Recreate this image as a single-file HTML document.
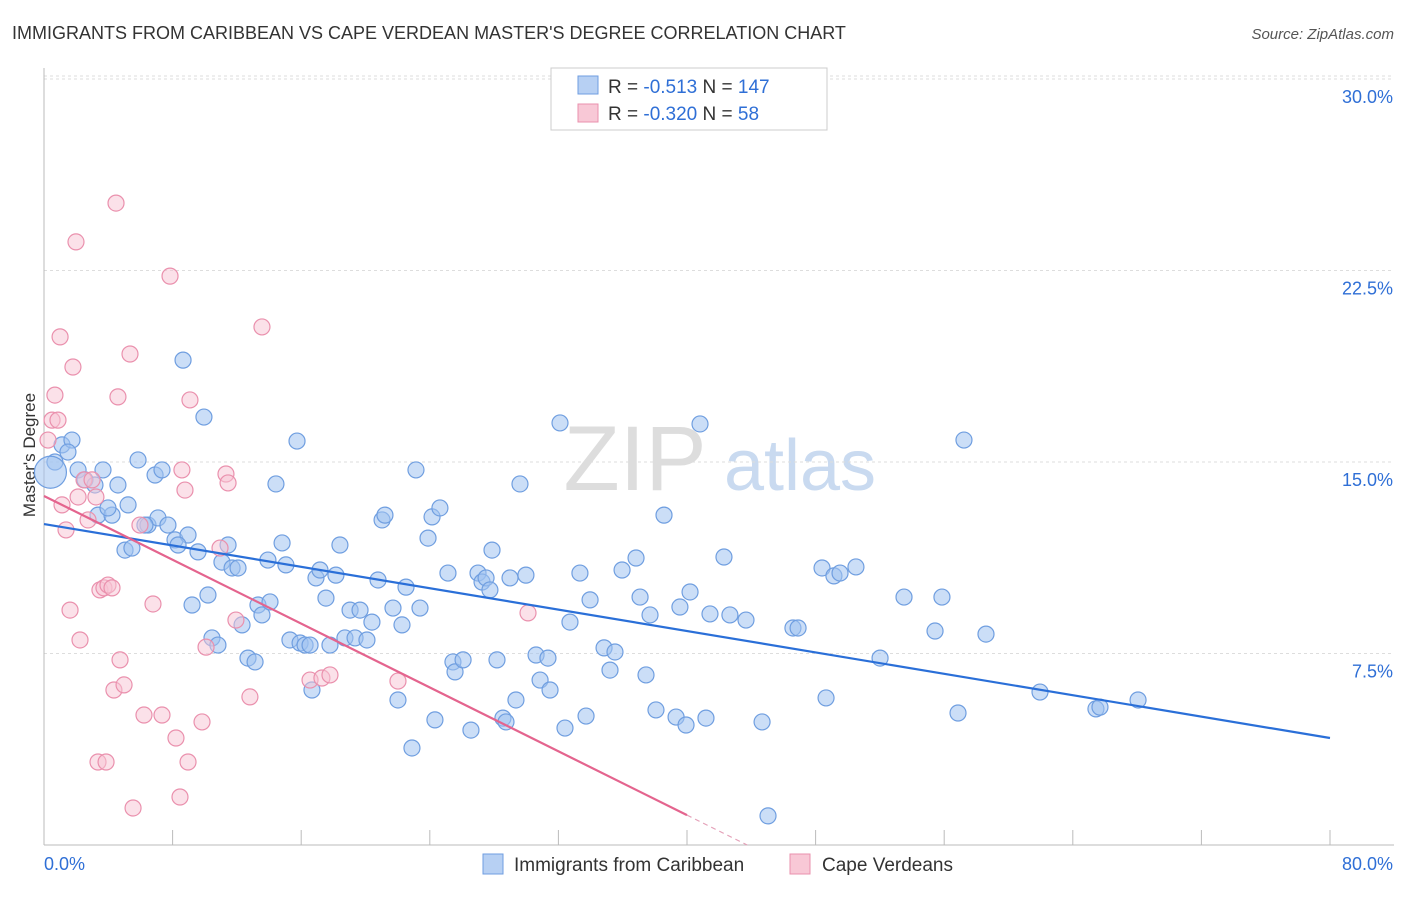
<!DOCTYPE html>
<html><head><meta charset="utf-8"><style>
body{margin:0;background:#fff;font-family:"Liberation Sans",sans-serif}
svg text{font-family:"Liberation Sans",sans-serif}
</style></head><body>
<svg id="chart" width="1406" height="892" xmlns="http://www.w3.org/2000/svg">
<text x="12" y="39" font-size="18" fill="#333">IMMIGRANTS FROM CARIBBEAN VS CAPE VERDEAN MASTER'S DEGREE CORRELATION CHART</text>
<text x="1394" y="39" font-size="15" fill="#555" font-style="italic" text-anchor="end">Source: ZipAtlas.com</text>
<text x="35" y="455" font-size="17" fill="#333" transform="rotate(-90 35 455)" text-anchor="middle">Master's Degree</text>
<g><text x="635" y="490" font-size="92" fill="#ddd" font-family="Liberation Serif" text-anchor="middle">ZIP</text><text x="800" y="490" font-size="72" fill="#c9daf0" text-anchor="middle">atlas</text></g>
<g id="grid"></g><g id="marks"></g>
<g>
<rect x="551" y="68" width="276" height="62" fill="#fff" stroke="#ccc"/>
<rect x="578" y="76" width="20" height="18" fill="#b7d0f3" stroke="#6f9ee0"/>
<rect x="578" y="104" width="20" height="18" fill="#f8c8d6" stroke="#ea90ad"/>
<text x="608" y="93" font-size="19" fill="#333">R = <tspan fill="#2f6fd6">-0.513</tspan>   N = <tspan fill="#2f6fd6">147</tspan></text>
<text x="608" y="120" font-size="19" fill="#333">R = <tspan fill="#2f6fd6">-0.320</tspan>   N = <tspan fill="#2f6fd6">  58</tspan></text>
</g>
<g>
<rect x="483" y="854" width="20" height="20" fill="#b7d0f3" stroke="#6f9ee0"/>
<text x="514" y="871" font-size="19" fill="#333">Immigrants from Caribbean</text>
<rect x="790" y="854" width="20" height="20" fill="#f8c8d6" stroke="#ea90ad"/>
<text x="822" y="871" font-size="19" fill="#333">Cape Verdeans</text>
</g>
</svg>
<script>
const xTicks=[0,8,16,24,32,40,48,56,64,72,80];
const yTicks=[7.5,15,22.5,30];
const yTickLabels=["7.5%","15.0%","22.5%","30.0%"];
const xEndLabels=["0.0%","80.0%"];
const bluePx=[[55,462],[62,445],[72,440],[68,452],[78,470],[85,480],[95,485],[103,470],[118,485],[98,515],[112,515],[108,508],[128,505],[138,460],[155,475],[162,470],[148,525],[158,518],[168,525],[145,525],[125,550],[132,548],[175,540],[188,535],[178,545],[198,552],[183,360],[204,417],[192,605],[208,595],[212,638],[218,645],[222,562],[228,545],[232,568],[238,568],[242,625],[248,658],[255,662],[258,605],[262,615],[268,560],[270,602],[276,484],[282,543],[286,565],[290,640],[297,441],[300,643],[305,645],[310,645],[312,690],[316,578],[320,570],[326,598],[330,645],[336,575],[340,545],[345,638],[350,610],[355,638],[360,610],[367,640],[372,622],[378,580],[382,520],[385,515],[393,608],[398,700],[402,625],[406,587],[412,748],[416,470],[420,608],[428,538],[432,517],[435,720],[440,508],[448,573],[453,662],[455,672],[463,660],[471,730],[478,573],[482,582],[486,578],[490,590],[492,550],[497,660],[503,718],[506,722],[510,578],[516,700],[520,484],[526,575],[536,655],[540,680],[548,658],[550,690],[560,423],[565,728],[570,622],[580,573],[586,716],[590,600],[604,648],[610,670],[615,652],[622,570],[636,558],[640,597],[646,675],[650,615],[656,710],[664,515],[676,717],[680,607],[686,725],[690,592],[700,424],[706,718],[710,614],[724,557],[730,615],[746,620],[762,722],[768,816],[793,628],[798,628],[822,568],[826,698],[834,576],[840,573],[856,567],[880,658],[904,597],[935,631],[942,597],[958,713],[964,440],[986,634],[1040,692],[1096,709],[1100,707],[1138,700]];
const pinkPx=[[48,440],[52,420],[55,395],[58,420],[60,337],[62,505],[66,530],[70,610],[73,367],[76,242],[78,497],[80,640],[84,480],[88,520],[92,480],[96,497],[100,590],[104,588],[108,585],[112,588],[114,690],[116,203],[118,397],[120,660],[124,685],[98,762],[106,762],[130,354],[133,808],[140,525],[144,715],[153,604],[162,715],[170,276],[176,738],[180,797],[182,470],[185,490],[188,762],[190,400],[202,722],[206,647],[220,548],[226,474],[228,483],[236,620],[250,697],[262,327],[310,680],[322,678],[330,675],[398,681],[528,613]];
// data values (percent)
const blueX=bluePx.map(p=>+((p[0]-44)*80/1286).toFixed(2));
const blueY=bluePx.map(p=>+((845-p[1])*30/766).toFixed(2));
const pinkX=pinkPx.map(p=>+((p[0]-44)*80/1286).toFixed(2));
const pinkY=pinkPx.map(p=>+((845-p[1])*30/766).toFixed(2));
const blueTrend=[12.57,4.19];
const pinkTrend=[13.67,1.17];
const X=v=>44+v*1286/80, Y=v=>845-v*766/30;
const NS="http://www.w3.org/2000/svg";
function mk(t,a,parent){const e=document.createElementNS(NS,t);for(const k in a)e.setAttribute(k,a[k]);parent.appendChild(e);return e;}
const g=document.getElementById('grid'), m=document.getElementById('marks');
yTicks.forEach((t,i)=>{const l=mk('line',{x1:44,x2:1394,y1:Y(t),y2:Y(t),stroke:'#ddd','stroke-dasharray':'3,3'},g);

const tx=mk('text',{x:1393,y:Y(t)+24,'font-size':18,fill:'#2f6fd6','text-anchor':'end'},g);tx.textContent=yTickLabels[i];
});
const gl=mk('line',{x1:44,x2:1394,y1:Y(30)-3,y2:Y(30)-3,stroke:'#ddd','stroke-dasharray':'3,3'},g);
const ax=mk('line',{x1:44,x2:1394,y1:845,y2:845,stroke:'#bbb'},g);

const ay=mk('line',{x1:44,x2:44,y1:68,y2:845,stroke:'#bbb'},g);

xTicks.forEach(t=>{const l=mk('line',{x1:X(t),x2:X(t),y1:830,y2:845,stroke:'#bbb'},g);
});
const xl0=mk('text',{x:44,y:870,'font-size':18,fill:'#2f6fd6'},g);xl0.textContent=xEndLabels[0];

const xl1=mk('text',{x:1393,y:870,'font-size':18,fill:'#2f6fd6','text-anchor':'end'},g);xl1.textContent=xEndLabels[1];

blueX.forEach((x,i)=>{const c=mk('circle',{cx:X(x),cy:Y(blueY[i]),r:8,fill:'rgba(160,195,240,0.55)',stroke:'#6f9ee0','stroke-width':1.2},m);
});
const big=mk('circle',{cx:X(0.4),cy:Y(14.6),r:16,fill:'rgba(160,195,240,0.55)',stroke:'#6f9ee0','stroke-width':1.2},m);

pinkX.forEach((x,i)=>{const c=mk('circle',{cx:X(x),cy:Y(pinkY[i]),r:8,fill:'rgba(248,195,212,0.5)',stroke:'#ea90ad','stroke-width':1.2},m);
});
const bl=mk('line',{x1:X(0),y1:Y(blueTrend[0]),x2:X(80),y2:Y(blueTrend[1]),stroke:'#2a6fd8','stroke-width':2.2},m);

const pl=mk('line',{x1:X(0),y1:Y(pinkTrend[0]),x2:X(40),y2:Y(pinkTrend[1]),stroke:'#e4648e','stroke-width':2.2},m);

const slope=(pinkTrend[1]-pinkTrend[0])/40, x0=-pinkTrend[0]/slope;
const pd=mk('line',{x1:X(40),y1:Y(pinkTrend[1]),x2:X(x0),y2:Y(0),stroke:'#e4a0b8','stroke-width':1.2,'stroke-dasharray':'5,4'},m);

</script>
</body></html>
